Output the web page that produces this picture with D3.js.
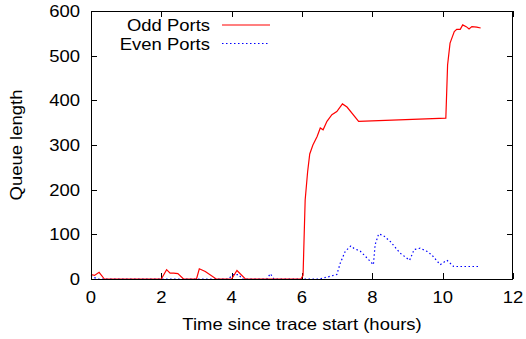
<!DOCTYPE html>
<html><head><meta charset="utf-8">
<script src="https://cdn.jsdelivr.net/npm/d3@7"></script>
<style>
body{margin:0;background:#fff;}
svg text{font-family:"Liberation Sans",Arial,sans-serif;fill:#000;}
</style></head>
<body><svg id="c" width="526" height="339"></svg>
<script>
const seriesNames = ["Odd Ports", "Even Ports"];
const oddPorts = [[0,10],[0.1,8],[0.23,15],[0.38,0],[2.0,0],[2.15,21],[2.25,13],[2.35,13],[2.47,12],[2.63,0],[3.0,0],[3.08,23],[3.25,17],[3.56,0],[4.0,0],[4.15,19],[4.39,0],[5.97,0],[6.03,8],[6.09,177],[6.16,240],[6.22,280],[6.31,300],[6.43,319],[6.52,338],[6.6,334],[6.71,353],[6.85,368],[6.99,375],[7.15,392],[7.28,385],[7.61,353],[10.09,360],[10.14,479],[10.21,528],[10.33,554],[10.4,559],[10.5,559],[10.57,569],[10.67,565],[10.75,560],[10.83,565],[10.97,564],[11.08,562]];
const evenPorts = [[0,8],[0.1,3],[0.2,0],[3.9,0],[4.05,10],[4.2,10],[4.3,0],[5.0,0],[5.1,12],[5.2,0],[6.5,0],[6.8,6],[6.99,10],[7.09,36],[7.23,62],[7.39,74],[7.47,69],[7.66,62],[7.85,47],[8.03,32],[8.08,77],[8.18,101],[8.32,97],[8.51,84],[8.79,58],[9.06,42],[9.19,66],[9.36,69],[9.55,62],[9.69,54],[9.93,32],[10.12,42],[10.26,32],[10.31,28],[11.02,28]];
const xTicks = [0,2,4,6,8,10,12];
const yTicks = [0,100,200,300,400,500,600];
const xLabel = "Time since trace start (hours)";
const yLabel = "Queue length";

const L=91, R=513, T=11, B=279;
const svg=d3.select("#c");
const x=d3.scaleLinear().domain([0,12]).range([L,R]);
const y=d3.scaleLinear().domain([0,600]).range([B,T]);
const fs=16.5, sx=1.12;

function txt(px,py,s,anchor,rot){
  return svg.append("text")
    .attr("transform",`translate(${px},${py})`+(rot?` rotate(${rot})`:"")+` scale(${sx},1)`)
    .attr("text-anchor",anchor).attr("font-size",fs).text(s);
}

// tick marks (inward, mirrored)
const g=svg.append("g").attr("stroke","#000").attr("stroke-width",1);
xTicks.forEach(t=>{const px=Math.round(x(t))+0.5;
  g.append("line").attr("x1",px).attr("x2",px).attr("y1",B).attr("y2",B-6);
  g.append("line").attr("x1",px).attr("x2",px).attr("y1",T).attr("y2",T+6);});
yTicks.forEach(t=>{const py=Math.round(y(t))+0.5;
  g.append("line").attr("x1",L).attr("x2",L+6).attr("y1",py).attr("y2",py);
  g.append("line").attr("x1",R).attr("x2",R-6).attr("y1",py).attr("y2",py);});

xTicks.forEach(t=>txt(x(t),B+24,String(t),"middle"));
yTicks.forEach(t=>txt(L-11,y(t)+6,String(t),"end"));

txt(302,B+51,xLabel,"middle");
txt(22,145,yLabel,"middle",-90);

const line=d3.line().x(d=>x(d[0])).y(d=>y(d[1]));
svg.append("path").datum(evenPorts).attr("d",line).attr("fill","none").attr("stroke","#0000ff").attr("stroke-width",1.2).attr("stroke-dasharray","1.5,2.5");
svg.append("path").datum(oddPorts).attr("d",line).attr("fill","none").attr("stroke","#ff0000").attr("stroke-width",1.2);

// legend
const colors=["#ff0000","#0000ff"], dashes=[null,"1.5,2.5"];
seriesNames.forEach((n,i)=>{
  const ly=25+i*18.5;
  txt(210,ly+6,n,"end");
  svg.append("line").attr("x1",222).attr("x2",270).attr("y1",ly).attr("y2",ly).attr("stroke",colors[i]).attr("stroke-width",1.2).attr("stroke-dasharray",dashes[i]);
});

svg.append("rect").attr("x",L+0.5).attr("y",T+0.5).attr("width",R-L-1).attr("height",B-T).attr("fill","none").attr("stroke","#000").attr("stroke-width",1);
</script></body></html>
